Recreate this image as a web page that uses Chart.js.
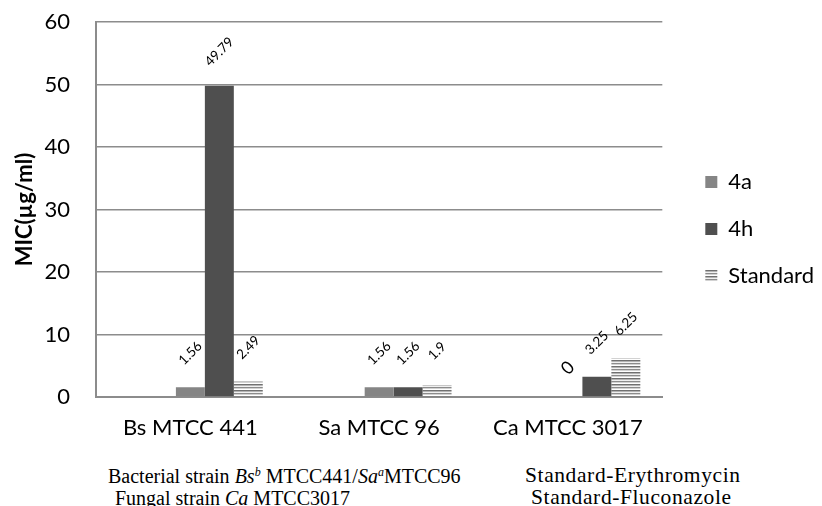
<!DOCTYPE html>
<html lang="en">
<head>
    <meta charset="UTF-8">
    <title>MIC chart</title>
    <script src="https://cdn.jsdelivr.net/npm/chart.js@4.4.1/dist/chart.umd.min.js"></script>
    <style>
        body { margin: 0; background: #fff; }
        .wrap { position: relative; width: 822px; height: 506px; }
        .canvas-box { position: absolute; left: 0; top: 0; width: 822px; height: 460px; }
        .note {
            position: absolute;
            font-family: "Liberation Serif", "Times New Roman", serif;
            font-size: 20px;
            line-height: 21px;
            color: #000;
            white-space: nowrap;
        }
        .note.std { font-size: 21.5px; letter-spacing: 0.6px; }
        .note sup { font-size: 12px; line-height: 0; vertical-align: 7px; }
    </style>
</head>
<body>
    <div class="wrap">
        <div class="canvas-box">
            <canvas id="micChart" width="822" height="460"></canvas>
        </div>
        <div class="note" style="left:108px; top:466px;">Bacterial strain <i>Bs</i><sup><i>b</i></sup> MTCC441/<i>Sa</i><sup><i>a</i></sup>MTCC96</div>
        <div class="note" style="left:115px; top:488px;">Fungal strain <i>Ca</i> MTCC3017</div>
        <div class="note std" style="left:525px; top:465px;">Standard-Erythromycin</div>
        <div class="note std" style="left:531px; top:487px;">Standard-Fluconazole</div>
    </div>

    <script>
        // chart data
        const categories = ['Bs MTCC 441', 'Sa MTCC 96', 'Ca MTCC 3017'];
        const values4a = [1.56, 1.56, 0];
        const values4h = [49.79, 1.56, 3.25];
        const valuesStandard = [2.49, 1.9, 6.25];
        const emptySeries = [null, null, null];
        const yMin = 0;
        const yMax = 60;
        const yStep = 10;

        const FONT = 'Lato, "Open Sans", sans-serif';

        // horizontal stripes for the "Standard" series
        const stripePattern = () => {
            const c = document.createElement('canvas');
            c.width = 4;
            c.height = 6;
            const g = c.getContext('2d');
            const rows = ['#707070', '#b4b4b4', '#f0f0f0', '#8c8c8c', '#d2d2d2', '#ffffff'];
            rows.forEach((col, i) => {
                g.fillStyle = col;
                g.fillRect(0, i, 4, 1);
            });
            return g.createPattern(c, 'repeat');
        };

        // rotated value labels above each bar
        const valueLabels = {
            id: 'valueLabels',
            afterDatasetsDraw(chart) {
                const ctx = chart.ctx;
                chart.data.datasets.forEach((ds, i) => {
                    if (ds.data.every(v => v === null)) return;
                    chart.getDatasetMeta(i).data.forEach((bar, j) => {
                        const v = ds.data[j];
                        const zero = v === 0;
                        ctx.save();
                        ctx.font = (zero ? '18px ' : '13.5px ') + FONT;
                        ctx.fillStyle = '#000';
                        ctx.textAlign = 'center';
                        ctx.textBaseline = 'middle';
                        ctx.translate(bar.x, bar.y - (zero ? 29 : 34));
                        ctx.rotate(-Math.PI / 4);
                        ctx.fillText(String(v), 0, 0);
                        ctx.restore();
                    });
                });
            }
        };

        // nudge the legend a little to the right / up
        const legendShift = {
            id: 'legendShift',
            afterLayout(chart) {
                const lg = chart.legend;
                if (!lg) return;
                lg.left += 18;
                lg.right += 18;
                lg.top -= 12;
                lg.bottom -= 12;
            }
        };

        const ctx = document.getElementById('micChart').getContext('2d');
        new Chart(ctx, {
            type: 'bar',
            data: {
                labels: categories,
                datasets: [
                    { label: '', data: emptySeries, backgroundColor: '#ffffff' },
                    { label: '', data: emptySeries, backgroundColor: '#ffffff' },
                    { label: '4a', data: values4a, backgroundColor: '#858585' },
                    { label: '4h', data: values4h, backgroundColor: '#4f4f4f' },
                    { label: 'Standard', data: valuesStandard, backgroundColor: stripePattern() }
                ]
            },
            options: {
                responsive: false,
                animation: false,
                layout: {
                    padding: { top: 22, right: 16, bottom: 0, left: 0 }
                },
                datasets: {
                    bar: {
                        categoryPercentage: 0.767,
                        barPercentage: 1,
                        borderWidth: 0
                    }
                },
                plugins: {
                    legend: {
                        position: 'right',
                        labels: {
                            filter: item => item.text !== '',
                            boxWidth: 12,
                            boxHeight: 12,
                            padding: 25,
                            color: '#000',
                            font: { family: FONT, size: 22 }
                        }
                    },
                    tooltip: { enabled: false }
                },
                scales: {
                    x: {
                        grid: { display: false, drawTicks: false },
                        border: { color: '#8c8c8c', width: 2 },
                        ticks: {
                            padding: 18,
                            color: '#000',
                            font: { family: FONT, size: 22 }
                        },
                        afterFit(scale) { scale.height = 63; }
                    },
                    y: {
                        min: yMin,
                        max: yMax,
                        ticks: {
                            stepSize: yStep,
                            padding: 26,
                            color: '#000',
                            font: { family: FONT, size: 22 }
                        },
                        grid: { color: '#8c8c8c', lineWidth: 1.5, drawTicks: false },
                        border: { color: '#8c8c8c', width: 2 },
                        title: {
                            display: true,
                            text: 'MIC(µg/ml)',
                            color: '#000',
                            font: { family: FONT, size: 22, weight: 'bold' },
                            padding: { top: 12, bottom: 0 }
                        },
                        afterFit(scale) {
                            scale.width = 96;
                            scale.paddingTop = 0;
                            scale.paddingBottom = 0;
                        }
                    }
                }
            },
            plugins: [valueLabels, legendShift]
        });
    </script>
</body>
</html>
